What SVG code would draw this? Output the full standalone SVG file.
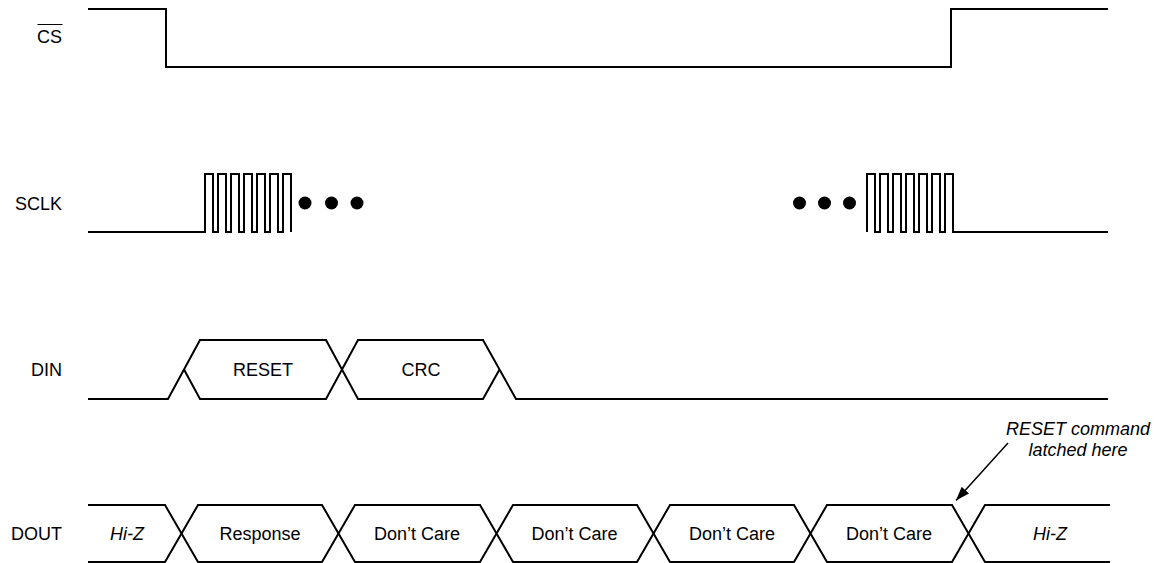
<svg xmlns="http://www.w3.org/2000/svg" width="1156" height="563" viewBox="0 0 1156 563">
<style>
  .sig { fill: none; stroke: #000; stroke-width: 2; stroke-linejoin: miter; }
  .lbl { font-family: "Liberation Sans", Arial, sans-serif; font-size: 18px; fill: #000; }
  .r { text-anchor: end; }
  .c { text-anchor: middle; }
  .i { font-style: italic; }
  .dot { fill: #000; }
</style>
<defs>
  <marker id="ah" viewBox="0 0 14 10" refX="14" refY="5" markerWidth="14" markerHeight="10" markerUnits="userSpaceOnUse" orient="auto">
    <path d="M0,0 L14,5 L0,10 Z" fill="#000"/>
  </marker>
</defs>
<rect width="1156" height="563" fill="#fff"/>

<g id="labels">
  <text class="lbl r" x="62" y="43">CS</text>
  <line x1="37.5" y1="24.5" x2="62.5" y2="24.5" stroke="#000" stroke-width="1"/>
  <text class="lbl r" x="62" y="209.5">SCLK</text>
  <text class="lbl r" x="62" y="376">DIN</text>
  <text class="lbl r" x="62" y="540">DOUT</text>
</g>

<g id="cs">
  <path class="sig" d="M88,9 H166 V67 H951 V9 H1108"/>
</g>

<g id="sclk">
  <path class="sig" d="M88,232 H205 V174 H213 V232 H218 V174 H226 V232 H231 V174 H239 V232 H244 V174 H252 V232 H257 V174 H265 V232 H270 V174 H278 V232 H283 V174 H291 V232"/>
  <circle class="dot" cx="305" cy="203" r="6.5"/>
  <circle class="dot" cx="331.5" cy="203" r="6.5"/>
  <circle class="dot" cx="357" cy="203" r="6.5"/>
  <circle class="dot" cx="799.5" cy="203" r="6.5"/>
  <circle class="dot" cx="824.5" cy="203" r="6.5"/>
  <circle class="dot" cx="849.5" cy="203" r="6.5"/>
  <path class="sig" d="M867,232 V174 H875 V232 H880 V174 H888 V232 H893 V174 H901 V232 H906 V174 H914 V232 H919 V174 H927 V232 H932 V174 H940 V232 H945 V174 H953 V232 H1108"/>
</g>

<g id="din">
  <path class="sig" d="M88,399 H168 L200,340 H326 L358,399 H483 L499.5,369.5"/>
  <path class="sig" d="M184,369.5 L200,399 H326 L358,340 H483 L516,399 H1108"/>
  <text class="lbl c" x="263" y="376">RESET</text>
  <text class="lbl c" x="421" y="376">CRC</text>
</g>

<g id="dout">
  <path class="sig" d="M88,505 H165 L198,562 H322 L355,505 H480 L513,562 H637 L670,505 H794 L827,562 H952 L985,505 H1110"/>
  <path class="sig" d="M88,562 H165 L198,505 H322 L355,562 H480 L513,505 H637 L670,562 H794 L827,505 H952 L985,562 H1110"/>
  <text class="lbl c i" x="127" y="540">Hi-Z</text>
  <text class="lbl c" x="260" y="540">Response</text>
  <text class="lbl c" x="417" y="540">Don’t Care</text>
  <text class="lbl c" x="574.5" y="540">Don’t Care</text>
  <text class="lbl c" x="732" y="540">Don’t Care</text>
  <text class="lbl c" x="889" y="540">Don’t Care</text>
  <text class="lbl c i" x="1050" y="540">Hi-Z</text>
</g>

<g id="annotation">
  <text class="lbl c i" x="1078" y="435">RESET command</text>
  <text class="lbl c i" x="1078" y="456">latched here</text>
</g>

<g id="connectors">
  <line x1="1008" y1="443" x2="956" y2="500.5" stroke="#000" stroke-width="1.5" marker-end="url(#ah)"/>
</g>
</svg>
